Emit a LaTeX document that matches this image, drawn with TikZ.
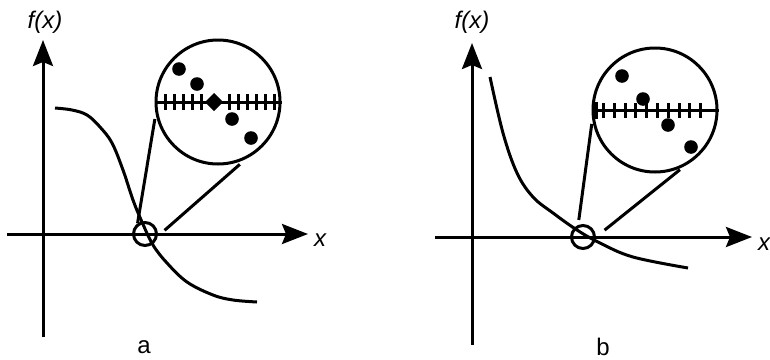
\documentclass[tikz,border=0pt]{standalone}
\usepackage{fontspec}
\setsansfont{Liberation Sans}
\usetikzlibrary{arrows.meta}

\begin{document}
\begin{tikzpicture}[x=0.5pt, y=-0.5pt, line width=1.5pt,
	every node/.style={font=\sffamily\fontsize{12}{14}\selectfont},
	>={Stealth[length=13pt, width=10pt, inset=2pt]},
	ring/.style={circle, draw, inner sep=0pt}]
	\useasboundingbox (0,0) rectangle (770,359);
	% panel a
	\draw[->] (7,234) -- (308,234);
	\draw[->] (43,337) -- (43,40);
	\node (fa) at (45,22) {\itshape f(x)};
	\node (xa) at (320,240) {\itshape x};
	\node (la) at (144,347) {a};
	\draw plot[smooth, tension=0.6] coordinates {(55,108) (72,110) (87,115) (100,127) (112,143)
		(123,170) (133,200) (142,222) (153,245) (167,263) (187,282) (213,295) (233,300) (257,302)};
	\node[ring, minimum size=11.5pt] (ra) at (145,234) {};
	\node[ring, minimum size=62pt] (ma) at (218,102) {};
	\draw (ma.west) -- (ma.east);
	\foreach \x in {165,174,183,192,201,229,238,247,256,265,274}
		\draw (\x,94) -- (\x,110);
	\fill (214,93) -- (223,102) -- (214,111) -- (205,102) -- cycle;
	\foreach \p in {(179,69),(197,84),(232,119),(251,138)}
		\fill \p circle[radius=6.8];
	\draw[shorten >=2.5pt] (ra.125) -- (ma.191);
	\draw[shorten <=4.5pt, shorten >=4pt] (ra.-10) -- (ma.-64);
	% panel b
	\draw[->] (435,237) -- (752,237);
	\draw[->] (472,345) -- (472,43);
	\node (fb) at (472,22) {\itshape f(x)};
	\node (xb) at (764,244) {\itshape x};
	\node (lb) at (603,347) {b};
	\draw plot[smooth, tension=0.6] coordinates {(490,77) (503,133) (517,173) (533,197) (553,213)
		(577,230) (600,243) (633,257) (688,268)};
	\node[ring, minimum size=11.5pt] (rb) at (583,237) {};
	\node[ring, minimum size=62pt] (mb) at (655,110) {};
	\draw (mb.west) -- (mb.east);
	\fill (592,102) rectangle (598,119);
	\foreach \x in {603,614,625,635,646,657,668,679,689,700}
		\draw (\x,103) -- (\x,118);
	\foreach \p in {(622,76),(643,99),(668,125),(691,147)}
		\fill \p circle[radius=6.8];
	\draw[shorten <=2.5pt, shorten >=2pt] (rb.112) -- (mb.189);
	\draw[shorten <=5.5pt, shorten >=2.5pt] (rb.0) -- (mb.-63);
\end{tikzpicture}
\end{document}
